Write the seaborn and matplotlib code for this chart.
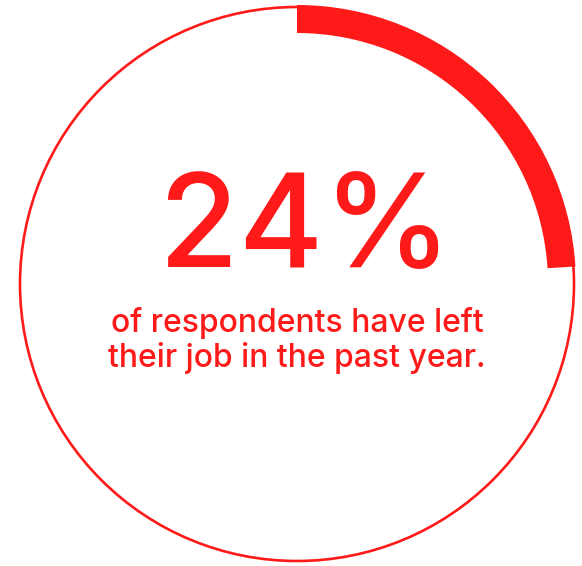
import matplotlib
matplotlib.use("Agg")
import matplotlib.pyplot as plt
from matplotlib.patches import Circle, Wedge
import seaborn as sns

# data
share_pct = 24
headline = f"{share_pct}%"
caption_lines = ["of respondents have left", "their job in the past year."]

sns.set_theme(style="white")
plt.rcParams["font.family"] = ["Inter", "DejaVu Sans"]

RED = "#FF1A1A"
W, H = 582, 566
fig = plt.figure(figsize=(W / 100, H / 100), dpi=100)
ax = fig.add_axes([0, 0, 1, 1])
ax.set_xlim(0, W)
ax.set_ylim(H, 0)
ax.set_axis_off()

cx, cy, r = 297, 284, 277
ax.add_patch(Circle((cx, cy), r, fill=False, ec=RED, lw=1.9))
start = 270
ax.add_patch(Wedge((cx, cy), r + 2, start, start + 360 * share_pct / 100,
                   width=28, fc=RED, ec="none"))

ax.text(305, 267, headline, color=RED, fontsize=93, fontweight="medium",
        ha="center", va="baseline")
ax.text(297, 332, caption_lines[0], color=RED, fontsize=23, fontweight="medium",
        ha="center", va="baseline")
ax.text(297, 367, caption_lines[1], color=RED, fontsize=23, fontweight="medium",
        ha="center", va="baseline")

fig.savefig("out.png", dpi=100)
